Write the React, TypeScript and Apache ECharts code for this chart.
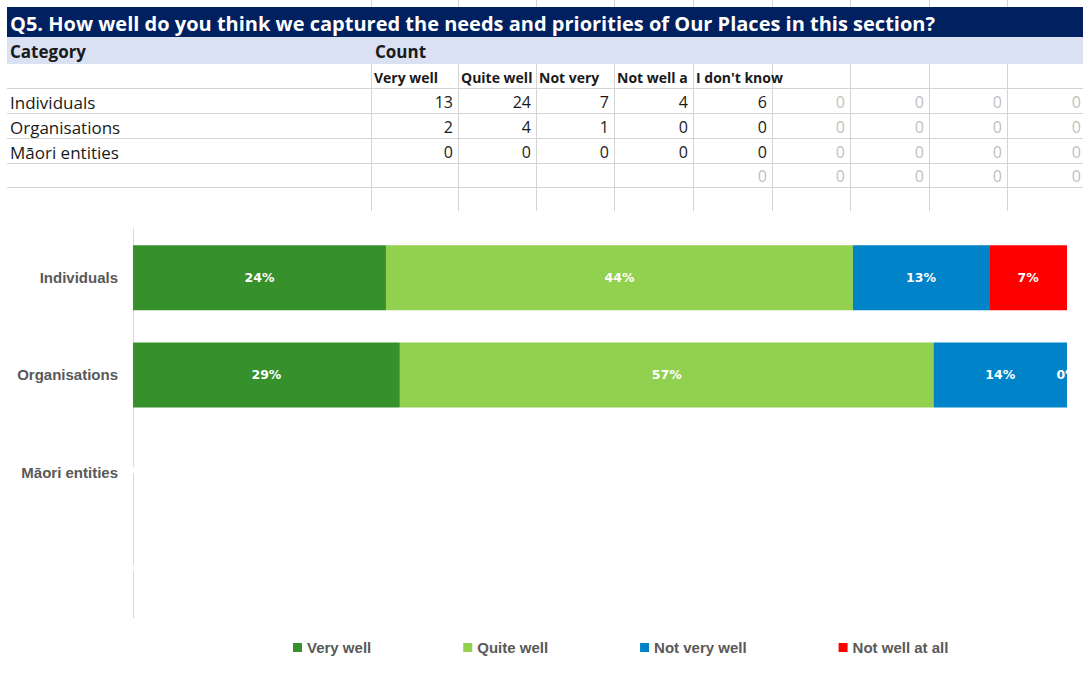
import React, { useEffect, useRef } from "react";
import * as echarts from "echarts";

// ---- Data ----
const TITLE = "Q5. How well do you think we captured the needs and priorities of Our Places in this section?";
const categoryHeader = "Category";
const countHeader = "Count";
const categories = ["Individuals", "Organisations", "Māori entities"];
const responseHeaders = ["Very well", "Quite well", "Not very well", "Not well at all", "I don't know"];
const individualsCounts = [13, 24, 7, 4, 6];
const organisationsCounts = [2, 4, 1, 0, 0];
const maoriCounts = [0, 0, 0, 0, 0];
const extraColumnValues = [0, 0, 0, 0];
const blankRowValues = [0, 0, 0, 0, 0];
const chartSeriesNames = ["Very well", "Quite well", "Not very well", "Not well at all"];
const seriesColors = ["#36902C", "#92D050", "#0083C8", "#FF0000"];
const axisCategories = [...categories, ""];

// ---- Layout / styles ----
const colEdges = [371, 458, 536, 614, 693, 772, 850, 929, 1007, 1086];
const gridLineColor = "#D4D4D4";
const tableFont = "'Open Sans', 'Liberation Sans', sans-serif";
const chartFont = "'Liberation Sans', Arial, sans-serif";

const counts = [individualsCounts, organisationsCounts, maoriCounts];
const rowTotals = counts.map((r) => r.reduce((a, b) => a + b, 0));
const shownTotals = counts.map((r) => r.slice(0, chartSeriesNames.length).reduce((a, b) => a + b, 0));

function buildGraphic() {
  const els: any[] = [];
  colEdges.slice(0, -1).forEach((x) => {
    els.push({ type: "line", z: 1, shape: { x1: x + 0.5, y1: 0, x2: x + 0.5, y2: 7 }, style: { stroke: gridLineColor, lineWidth: 1 } });
  });
  els.push({ type: "rect", z: 1, shape: { x: 7, y: 7, width: 1076, height: 30 }, style: { fill: "#002060" } });
  els.push({ type: "rect", z: 1, shape: { x: 7, y: 37, width: 1076, height: 27 }, style: { fill: "#D9E1F2" } });
  colEdges.slice(0, -1).forEach((x) => {
    els.push({ type: "line", z: 1, shape: { x1: x + 0.5, y1: 64, x2: x + 0.5, y2: 211 }, style: { stroke: gridLineColor, lineWidth: 1 } });
  });
  [88.5, 113.5, 138.5, 163.5, 187.5].forEach((y) => {
    els.push({ type: "line", z: 1, shape: { x1: 7, y1: y, x2: 1083, y2: y }, style: { stroke: gridLineColor, lineWidth: 1 } });
  });
  els.push({ type: "text", z: 5, x: 10, y: 23, style: { text: TITLE, fill: "#FFFFFF", fontFamily: tableFont, fontWeight: "bold", fontSize: 20, align: "left", verticalAlign: "middle" } });
  els.push({ type: "text", z: 5, x: 10, y: 51, style: { text: categoryHeader, fill: "#1A1A1A", fontFamily: tableFont, fontWeight: "bold", fontSize: 17, align: "left", verticalAlign: "middle" } });
  els.push({ type: "text", z: 5, x: 375, y: 51, style: { text: countHeader, fill: "#1A1A1A", fontFamily: tableFont, fontWeight: "bold", fontSize: 17, align: "left", verticalAlign: "middle" } });
  // header texts: clipped at the next non-empty cell, as in the spreadsheet
  responseHeaders.forEach((h, i) => {
    const isLast = i === responseHeaders.length - 1;
    if (i > 0) {
      els.push({
        type: "rect", z: 10 + 2 * i - 1,
        shape: { x: colEdges[i] + 1, y: 65, width: colEdges[i + 1] - colEdges[i] - 1, height: 23 },
        style: { fill: "#FFFFFF" },
      });
    }
    els.push({
      type: "text", z: 10 + 2 * i, x: colEdges[i] + 3, y: 77,
      style: {
        text: h, fill: "#1A1A1A", fontFamily: tableFont, fontWeight: "bold", fontSize: 14, align: "left", verticalAlign: "middle",
        ...(isLast ? {} : { width: colEdges[i + 1] - colEdges[i] - 3, overflow: "truncate", ellipsis: "" }),
      },
    });
  });
  const rowYs = [102, 127, 152, 176];
  categories.forEach((c, r) => {
    els.push({ type: "text", z: 5, x: 10, y: rowYs[r], style: { text: c, fill: "#1A1A1A", fontFamily: tableFont, fontSize: 17, align: "left", verticalAlign: "middle" } });
    counts[r].forEach((v, i) => {
      els.push({ type: "text", z: 5, x: colEdges[i + 1] - 5, y: rowYs[r], style: { text: String(v), fill: "#1A1A1A", fontFamily: tableFont, fontSize: 16, align: "right", verticalAlign: "middle" } });
    });
    extraColumnValues.forEach((v, k) => {
      const ci = responseHeaders.length + k;
      els.push({ type: "text", z: 5, x: colEdges[ci + 1] - 5, y: rowYs[r], style: { text: String(v), fill: "#BFBFBF", fontFamily: tableFont, fontSize: 16, align: "right", verticalAlign: "middle" } });
    });
  });
  blankRowValues.forEach((v, k) => {
    const ci = responseHeaders.length - 1 + k;
    els.push({ type: "text", z: 5, x: colEdges[ci + 1] - 5, y: rowYs[3], style: { text: String(v), fill: "#BFBFBF", fontFamily: tableFont, fontSize: 16, align: "right", verticalAlign: "middle" } });
  });
  els.push({ type: "rect", z: -10, shape: { x: 0, y: 211, width: 1083, height: 468 }, style: { fill: "#FFFFFF" } });
  els.push({ type: "rect", z: 100, shape: { x: 130, y: 467, width: 6, height: 6 }, style: { fill: "#FFFFFF" } });
  els.push({ type: "rect", z: 100, shape: { x: 130, y: 565, width: 6, height: 6 }, style: { fill: "#FFFFFF" } });
  els.push({ type: "rect", z: 100, shape: { x: 1068, y: 330, width: 15, height: 90 }, style: { fill: "#FFFFFF" } });
  return els;
}

export default function App() {
  const ref = useRef<HTMLDivElement>(null);
  useEffect(() => {
    if (!ref.current) return;
    const chart = echarts.init(ref.current, null, { renderer: "svg" });
    const series = chartSeriesNames.map((name, s) => ({
      name,
      type: "bar",
      stack: "total",
      barWidth: 65,
      z: 2,
      itemStyle: { color: seriesColors[s] },
      label: {
        show: true,
        position: "inside",
        color: "#FFFFFF",
        fontFamily: "'DejaVu Sans', sans-serif",
        fontWeight: "bold",
        fontSize: 12.5,
        formatter: (p: any) => Math.round((counts[p.dataIndex][s] / rowTotals[p.dataIndex]) * 100) + "%",
      },
      data: axisCategories.map((_, i) =>
        i < counts.length && shownTotals[i] > 0 ? (counts[i][s] / shownTotals[i]) * 100 : null
      ),
    }));
    chart.setOption({
      animation: false,
      backgroundColor: "#FFFFFF",
      grid: { left: 133, right: 16, top: 229, bottom: 61, containLabel: false },
      xAxis: { type: "value", min: 0, max: 100, show: false },
      yAxis: {
        type: "category",
        inverse: true,
        data: axisCategories,
        axisLine: { show: true, lineStyle: { color: "#D9D9D9", width: 1 } },
        axisTick: { show: false },
        splitLine: { show: false },
        axisLabel: { margin: 15, color: "#595959", fontSize: 15, fontWeight: "bold", fontFamily: chartFont },
      },
      legend: {
        data: chartSeriesNames,
        left: 293,
        top: 640,
        padding: 0,
        icon: "rect",
        itemWidth: 9,
        itemHeight: 9,
        itemGap: 92,
        textStyle: { color: "#595959", fontSize: 15, fontWeight: "bold", fontFamily: chartFont },
      },
      graphic: buildGraphic(),
      series,
    });
    return () => chart.dispose();
  }, []);
  return <div ref={ref} style={{ position: "fixed", left: 0, top: 0, width: 1083, height: 679 }} />;
}
